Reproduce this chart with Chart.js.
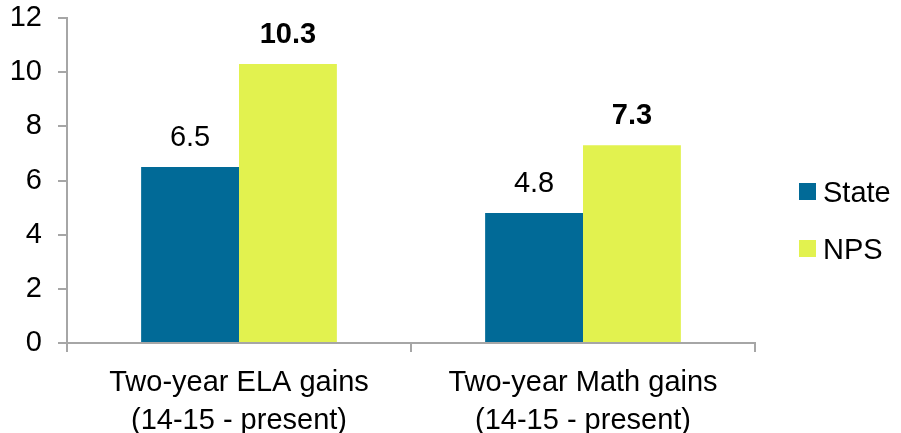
<!DOCTYPE html>
<html lang="en">
<head>
  <meta charset="UTF-8">
  <title>Two-year gains: State vs NPS</title>
  <script src="https://cdn.jsdelivr.net/npm/chart.js"></script>
  <style>
    html, body {
      margin: 0;
      padding: 0;
      background: #ffffff;
    }
    .chart-box {
      position: relative;
      width: 901px;
      height: 433px;
    }
  </style>
</head>
<body>
  <div class="chart-box">
    <canvas id="chart" width="901" height="433"></canvas>
  </div>
  <script>
    // Données
    const categories = [
      ['Two-year ELA gains', '(14-15 - present)'],
      ['Two-year Math gains', '(14-15 - present)'],
    ];
    const stateValues = [6.5, 4.8];
    const npsValues = [10.3, 7.3];
    const yTicks = [0, 2, 4, 6, 8, 10, 12];

    const FONT = "'Liberation Sans', Arial, sans-serif";
    const AXIS_GREY = '#a6a6a6';

    // Étiquettes de valeur au-dessus des barres
    const valueLabels = {
      id: 'valueLabels',
      afterDatasetsDraw(chart) {
        const ctx = chart.ctx;
        ctx.save();
        ctx.fillStyle = '#000';
        ctx.textAlign = 'center';
        ctx.textBaseline = 'alphabetic';
        chart.data.datasets.forEach((ds, i) => {
          const meta = chart.getDatasetMeta(i);
          ctx.font = (ds.boldLabels ? 'bold ' : '') + '29px ' + FONT;
          meta.data.forEach((bar, j) => {
            ctx.fillText(ds.data[j].toFixed(1), bar.x, bar.y - 21);
          });
        });
        ctx.restore();
      },
    };

    // Légende à droite
    const sideLegend = {
      id: 'sideLegend',
      afterDraw(chart) {
        const ctx = chart.ctx;
        const x = chart.chartArea.right + 44;
        let y = 183;
        ctx.save();
        ctx.font = '29px ' + FONT;
        ctx.textBaseline = 'middle';
        chart.data.datasets.forEach((ds) => {
          ctx.fillStyle = ds.backgroundColor;
          ctx.fillRect(x, y, 17, 17);
          ctx.fillStyle = '#000';
          ctx.fillText(ds.label, x + 24, y + 11);
          y += 57;
        });
        ctx.restore();
      },
    };

    new Chart(document.getElementById('chart'), {
      type: 'bar',
      data: {
        labels: categories,
        datasets: [
          {
            label: 'State',
            data: stateValues,
            backgroundColor: '#016a97',
            categoryPercentage: 0.569,
            barPercentage: 1,
          },
          {
            label: 'NPS',
            data: npsValues,
            backgroundColor: '#e2f24f',
            categoryPercentage: 0.569,
            barPercentage: 1,
            boldLabels: true,
          },
        ],
      },
      options: {
        responsive: false,
        animation: false,
        layout: {
          padding: { top: 18, right: 146, left: 0, bottom: 0 },
        },
        plugins: {
          legend: { display: false },
          tooltip: { enabled: false },
        },
        scales: {
          x: {
            border: { color: AXIS_GREY, width: 2 },
            grid: {
              color: AXIS_GREY,
              lineWidth: 2,
              drawOnChartArea: false,
              drawTicks: true,
              tickLength: 9,
              offset: true,
            },
            ticks: {
              color: '#000',
              font: { family: FONT, size: 29, lineHeight: 1.3 },
              padding: 12,
              maxRotation: 0,
            },
            afterFit(scale) {
              scale.height = 90;
              scale.paddingLeft = 0;
              scale.paddingRight = 0;
            },
          },
          y: {
            min: 0,
            max: 12,
            afterBuildTicks(scale) {
              scale.ticks = yTicks.map((v) => ({ value: v }));
            },
            border: { color: AXIS_GREY, width: 2 },
            grid: {
              color: AXIS_GREY,
              lineWidth: 2,
              drawOnChartArea: false,
              drawTicks: true,
              tickLength: 9,
            },
            ticks: {
              color: '#000',
              font: { family: FONT, size: 29 },
              padding: 16,
            },
            afterFit(scale) {
              scale.width = 67;
              scale.paddingTop = 0;
              scale.paddingBottom = 0;
            },
          },
        },
      },
      plugins: [valueLabels, sideLegend],
    });
  </script>
</body>
</html>
